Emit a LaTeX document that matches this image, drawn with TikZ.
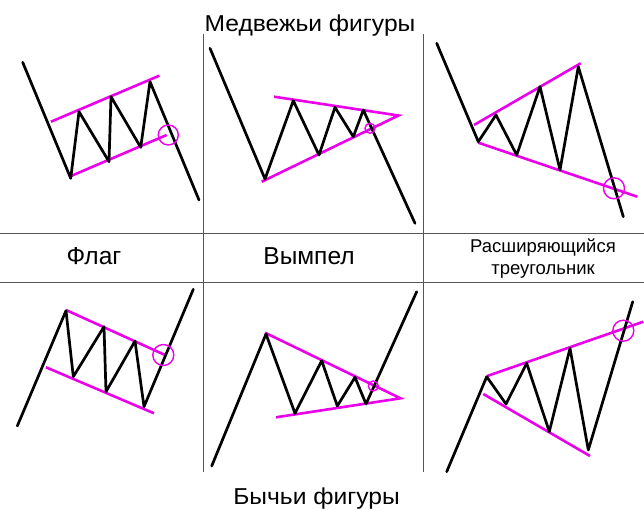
\documentclass[tikz,border=0pt]{standalone}
\usepackage{fontspec}
\setmainfont{Liberation Sans}
\definecolor{mag}{RGB}{235,0,235}
\definecolor{gridc}{RGB}{85,85,85}
\begin{document}
\begin{tikzpicture}[x=1pt,y=-1pt,
  price/.style={line width=2.7pt, line join=round, line cap=round},
  trend/.style={draw=mag, line width=2.6pt},
  brk/.style={draw=mag, line width=1.4pt},
  gridline/.style={draw=gridc, line width=1pt},
  biglab/.style={font=\fontsize{23}{27}\selectfont, inner sep=0pt, anchor=base, xscale=1.07},
  midlab/.style={font=\fontsize{24.5}{28}\selectfont, inner sep=0pt, anchor=base},
  smalllab/.style={font=\fontsize{18.5}{22}\selectfont, inner sep=0pt, anchor=base}]
\useasboundingbox (0,0) rectangle (644,510);
\fill[white] (0,0) rectangle (644,510);
% grid
\draw[gridline] (0,234) -- (644,234);
\draw[gridline] (0,282) -- (644,282);
\draw[gridline] (203,34) -- (203,472);
\draw[gridline] (423,34) -- (423,472);
% labels
\node[biglab] (t1) at (310,32) {Медвежьи фигуры};
\node[biglab] (t2) at (316.5,504) {Бычьи фигуры};
\node[midlab] (l1) at (94,264.5) {Флаг};
\node[midlab] (l2) at (309,265) {Вымпел};
\node[smalllab] (l3) at (543,252) {Расширяющийся};
\node[smalllab] (l4) at (543,274.5) {треугольник};
% top-left bearish flag
\draw[trend] (51,121.7) -- (159.3,75.7);
\draw[trend] (71,176) -- (166.7,135);
\draw[price] (22.7,62.3) -- (70.7,178.3) -- (79,111.7) -- (109,161.7) -- (111,96.7) -- (140.7,147.3) -- (150,81.7) -- (199,200);
\draw[brk] (168.3,135) circle (10);
% top-middle bearish pennant
\draw[trend] (274,96.7) -- (398.5,115.5) -- (261.7,181.7);
\draw[price] (210,48.3) -- (265,179) -- (293.3,100.7) -- (319,155) -- (335,107.3) -- (353.3,136.7) -- (363.3,110) -- (415,223.3);
\draw[brk] (370,128.3) circle (5);
% top-right expanding triangle bearish
\draw[trend] (474,125) -- (580.7,63.3);
\draw[trend] (478.3,142.7) -- (637.3,196.7);
\draw[price] (436.7,43.3) -- (478.3,141.7) -- (496,115) -- (516.7,155) -- (540,86.7) -- (560,170) -- (578.3,66.7) -- (623.3,216.7);
\draw[brk] (614,188.3) circle (10.5);
% bottom-left bullish flag
\draw[trend] (66,310) -- (165,355);
\draw[trend] (46,367.3) -- (154,413.3);
\draw[price] (17.3,426) -- (66,310.7) -- (73.3,376.7) -- (104,326.7) -- (106,391.7) -- (135,341) -- (144,406.7) -- (193.3,289.3);
\draw[brk] (163.3,355) circle (10.5);
% bottom-middle bullish pennant
\draw[trend] (265,332.7) -- (400.5,398.3) -- (276,417.3);
\draw[price] (211.7,466) -- (266,334) -- (295,413.3) -- (321.7,360.7) -- (337.3,406) -- (355,377.3) -- (366,404) -- (416.7,291.7);
\draw[brk] (373.3,386) circle (5);
% bottom-right expanding bullish
\draw[trend] (487.3,376) -- (643.3,321.7);
\draw[trend] (483.3,394) -- (590,456);
\draw[price] (446.7,471.7) -- (486.7,376.7) -- (506,404) -- (526.7,363.3) -- (549.3,431.7) -- (570,348.3) -- (588.3,450) -- (632.7,301.7);
\draw[brk] (623.3,330.7) circle (10.5);
\end{tikzpicture}
\end{document}
